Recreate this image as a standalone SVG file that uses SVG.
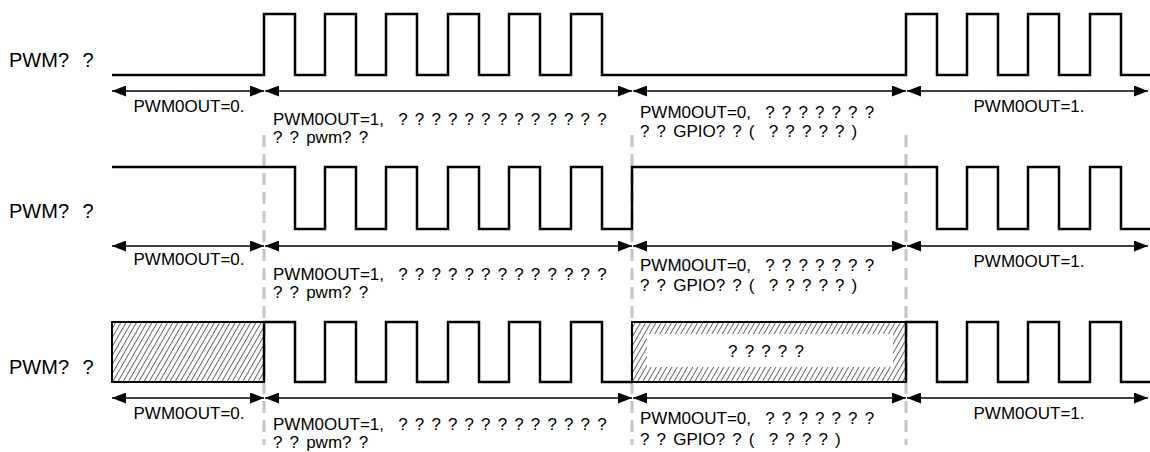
<svg xmlns="http://www.w3.org/2000/svg" width="1150" height="452" viewBox="0 0 1150 452">
  <style>
    text { font-family: "Liberation Sans", Arial, sans-serif; fill: #000; }
    .lbl { font-size: 17px; word-spacing: 2.4px; }
    .sig { font-size: 20px; word-spacing: 8px; }
    .mid { text-anchor: middle; }
    .wave { fill: none; stroke: #000; stroke-width: 2.5; stroke-linejoin: miter; }
    .arr { stroke: #000; stroke-width: 1.4; fill: none; marker-start: url(#ah); marker-end: url(#ah); }
    .guide { stroke: #c4c4c4; stroke-width: 3; stroke-dasharray: 12 7; fill: none; }
    .hatch { fill: url(#hp); stroke: #000; stroke-width: 2; }
  </style>
  <defs>
    <marker id="ah" viewBox="0 0 14 11" refX="14" refY="5.5" markerWidth="14" markerHeight="11" markerUnits="userSpaceOnUse" orient="auto-start-reverse">
      <path d="M0,0 L14,5.5 L0,11 z" fill="#000"/>
    </marker>
    <pattern id="hp" width="4.5" height="4.5" patternUnits="userSpaceOnUse" patternTransform="rotate(30)">
      <rect width="4.5" height="4.5" fill="#fff"/>
      <line x1="0.5" y1="0" x2="0.5" y2="4.5" stroke="#444" stroke-width="0.8"/>
    </pattern>
  </defs>

  <g id="guides">
    <line class="guide" x1="264" y1="135" x2="264" y2="445"/>
    <line class="guide" x1="632" y1="135" x2="632" y2="445"/>
    <line class="guide" x1="906" y1="135" x2="906" y2="445"/>
  </g>

  <g id="row1">
    <text class="sig" x="9" y="67">PWM? ?</text>
    <path class="wave" d="M112,75 H264 V14 H295 V75 H325 V14 H356 V75 H386 V14 H417 V75 H448 V14 H479 V75 H509 V14 H540 V75 H571 V14 H602 V75 H906 V14 H937 V75 H967 V14 H998 V75 H1028 V14 H1059 V75 H1090 V14 H1121 V75 H1150"/>
  </g>

  <g id="row2">
    <text class="sig" x="9" y="218">PWM? ?</text>
    <path class="wave" d="M112,167 H295 V229 H325 V167 H356 V229 H386 V167 H417 V229 H448 V167 H479 V229 H509 V167 H540 V229 H571 V167 H602 V229 H632 V167 H937 V229 H967 V167 H998 V229 H1028 V167 H1059 V229 H1090 V167 H1121 V229 H1150"/>
  </g>

  <g id="row3">
    <text class="sig" x="9" y="374">PWM? ?</text>
    <rect class="hatch" x="112" y="322" width="152" height="60"/>
    <rect class="hatch" x="632" y="322" width="274" height="60"/>
    <rect x="647" y="334" width="246" height="33" fill="#fff"/>
    <text class="lbl mid" x="766" y="357">? ? ? ? ?</text>
    <path class="wave" d="M264,382 V322 H295 V382 H325 V322 H356 V382 H386 V322 H417 V382 H448 V322 H479 V382 H509 V322 H540 V382 H571 V322 H602 V382 H632"/>
    <path class="wave" d="M906,382 V322 H937 V382 H967 V322 H998 V382 H1028 V322 H1059 V382 H1090 V322 H1121 V382 H1150"/>
  </g>

  <g id="connectors">
    <line class="arr" x1="112" y1="91" x2="264" y2="91"/>
    <line class="arr" x1="265" y1="91" x2="632" y2="91"/>
    <line class="arr" x1="633" y1="91" x2="906" y2="91"/>
    <line class="arr" x1="907" y1="91" x2="1148" y2="91"/>

    <line class="arr" x1="112" y1="246" x2="264" y2="246"/>
    <line class="arr" x1="265" y1="246" x2="632" y2="246"/>
    <line class="arr" x1="633" y1="246" x2="906" y2="246"/>
    <line class="arr" x1="907" y1="246" x2="1148" y2="246"/>

    <line class="arr" x1="112" y1="398" x2="264" y2="398"/>
    <line class="arr" x1="265" y1="398" x2="632" y2="398"/>
    <line class="arr" x1="633" y1="398" x2="906" y2="398"/>
    <line class="arr" x1="907" y1="398" x2="1148" y2="398"/>
  </g>

  <g id="labels-row1">
    <text class="lbl mid" x="189" y="112">PWM0OUT=0.</text>
    <text class="lbl" x="273" y="125" xml:space="preserve">PWM0OUT=1,  ? ? ? ? ? ? ? ? ? ? ? ? ?</text>
    <text class="lbl" x="273" y="143">? ? pwm? ?</text>
    <text class="lbl" x="640" y="118" xml:space="preserve">PWM0OUT=0,  ? ? ? ? ? ? ?</text>
    <text class="lbl" x="640" y="137" xml:space="preserve">? ? GPIO? ? (  ? ? ? ? ? )</text>
    <text class="lbl mid" x="1029" y="112">PWM0OUT=1.</text>
  </g>

  <g id="labels-row2">
    <text class="lbl mid" x="189" y="265">PWM0OUT=0.</text>
    <text class="lbl" x="273" y="280" xml:space="preserve">PWM0OUT=1,  ? ? ? ? ? ? ? ? ? ? ? ? ?</text>
    <text class="lbl" x="273" y="298">? ? pwm? ?</text>
    <text class="lbl" x="640" y="271" xml:space="preserve">PWM0OUT=0,  ? ? ? ? ? ? ?</text>
    <text class="lbl" x="640" y="291" xml:space="preserve">? ? GPIO? ? (  ? ? ? ? ? )</text>
    <text class="lbl mid" x="1029" y="267">PWM0OUT=1.</text>
  </g>

  <g id="labels-row3">
    <text class="lbl mid" x="189" y="419">PWM0OUT=0.</text>
    <text class="lbl" x="273" y="430" xml:space="preserve">PWM0OUT=1,  ? ? ? ? ? ? ? ? ? ? ? ? ?</text>
    <text class="lbl" x="273" y="448">? ? pwm? ?</text>
    <text class="lbl" x="640" y="424" xml:space="preserve">PWM0OUT=0,  ? ? ? ? ? ? ?</text>
    <text class="lbl" x="640" y="445" xml:space="preserve">? ? GPIO? ? (  ? ? ? ? )</text>
    <text class="lbl mid" x="1029" y="419">PWM0OUT=1.</text>
  </g>
</svg>
